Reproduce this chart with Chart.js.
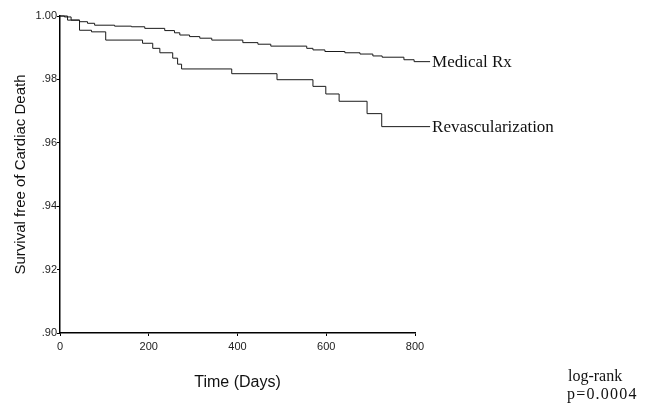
<!DOCTYPE html>
<html lang="en">
<head>
    <meta charset="UTF-8">
    <title>Survival free of Cardiac Death</title>
    <script src="https://cdn.jsdelivr.net/npm/chart.js"></script>
    <style>
        html, body {
            margin: 0;
            padding: 0;
            background: #fff;
        }
        #wrap {
            width: 649px;
            height: 404px;
        }
    </style>
</head>
<body>
    <div id="wrap">
        <canvas id="kmChart" width="649" height="404"></canvas>
    </div>
    <script>
        // Kaplan-Meier steps (day, survival)
        const medicalDays = [0, 10, 25, 44, 62, 78, 123, 161, 191, 236, 258, 270, 292, 315, 342, 412, 446, 475, 556, 570, 597, 642, 676, 705, 726, 775, 798, 834];
        const medicalSurv = [1.000, 0.9997, 0.9987, 0.9982, 0.9977, 0.9971, 0.9968, 0.9966, 0.9961, 0.9954, 0.9947, 0.9940, 0.9935, 0.9930, 0.9924, 0.9916, 0.9911, 0.9905, 0.9898, 0.9893, 0.9888, 0.9884, 0.9880, 0.9874, 0.9870, 0.9862, 0.9856, 0.9856];

        const revascDays = [0, 17, 44, 71, 103, 186, 209, 225, 254, 265, 274, 387, 489, 570, 599, 629, 692, 725, 834];
        const revascSurv = [1.000, 0.9987, 0.9955, 0.9950, 0.9924, 0.9914, 0.9898, 0.9884, 0.9867, 0.9848, 0.9833, 0.9818, 0.9799, 0.9778, 0.9754, 0.9731, 0.9692, 0.9651, 0.9651];

        const seriesNames = ['Medical Rx', 'Revascularization'];
        const yTicks = [0.90, 0.92, 0.94, 0.96, 0.98, 1.00];
        const xTicks = [0, 200, 400, 600, 800];
        const testLines = ['log-rank', 'p=0.0004'];

        const toPoints = (xs, ys) => xs.map((x, i) => ({ x: x, y: ys[i] }));

        // curve names at the end of each line + the log-rank note
        const labelsPlugin = {
            id: 'kmLabels',
            afterDatasetsDraw(chart) {
                const ctx = chart.ctx;
                ctx.save();
                ctx.fillStyle = '#111';
                ctx.font = '17px "Liberation Serif", "Times New Roman", serif';
                ctx.textBaseline = 'middle';
                ctx.textAlign = 'left';
                chart.data.datasets.forEach((ds, i) => {
                    const pts = chart.getDatasetMeta(i).data;
                    const last = pts[pts.length - 1];
                    ctx.fillText(ds.label, last.x + 2, last.y + 1);
                });
                ctx.font = '16px "Liberation Serif", "Times New Roman", serif';
                ctx.fillText(testLines[0], chart.width - 81, chart.height - 27);
                ctx.letterSpacing = '1.2px';
                ctx.fillText(testLines[1], chart.width - 82, chart.height - 9);
                ctx.restore();
            }
        };

        new Chart(document.getElementById('kmChart'), {
            type: 'line',
            data: {
                datasets: [
                    {
                        label: seriesNames[0],
                        data: toPoints(medicalDays, medicalSurv),
                        borderColor: '#1a1a1a',
                        borderWidth: 1,
                        stepped: true,
                        pointRadius: 0,
                        clip: false
                    },
                    {
                        label: seriesNames[1],
                        data: toPoints(revascDays, revascSurv),
                        borderColor: '#1a1a1a',
                        borderWidth: 1,
                        stepped: true,
                        pointRadius: 0,
                        clip: false
                    }
                ]
            },
            options: {
                responsive: false,
                animation: false,
                events: [],
                layout: {
                    padding: { top: 16, right: 234, bottom: 8, left: 0 }
                },
                plugins: {
                    legend: { display: false },
                    tooltip: { enabled: false }
                },
                scales: {
                    x: {
                        type: 'linear',
                        min: 0,
                        max: 800,
                        afterBuildTicks: s => { s.ticks = xTicks.map(v => ({ value: v })); },
                        afterFit: s => { s.height = 63; },
                        grid: {
                            drawOnChartArea: false,
                            drawTicks: true,
                            tickLength: 3,
                            color: '#000'
                        },
                        border: { color: '#000', width: 1.5 },
                        ticks: {
                            padding: 4,
                            color: '#222',
                            font: { family: '"Liberation Sans", Arial, sans-serif', size: 11 }
                        },
                        title: {
                            display: true,
                            text: 'Time (Days)',
                            color: '#111',
                            padding: { top: 4, bottom: 4 },
                            font: { family: '"Liberation Sans", Arial, sans-serif', size: 16 }
                        }
                    },
                    y: {
                        min: 0.90,
                        max: 1.00,
                        afterBuildTicks: s => { s.ticks = yTicks.map(v => ({ value: v })); },
                        afterFit: s => { s.width = 60; },
                        grid: {
                            drawOnChartArea: false,
                            drawTicks: true,
                            tickLength: 3,
                            color: '#000'
                        },
                        border: { color: '#000', width: 1.5 },
                        ticks: {
                            padding: 0,
                            color: '#222',
                            font: { family: '"Liberation Sans", Arial, sans-serif', size: 11 },
                            callback: v => v.toFixed(2).replace(/^0/, '')
                        },
                        title: {
                            display: true,
                            text: 'Survival free of Cardiac Death',
                            color: '#111',
                            padding: { top: 12, bottom: 0 },
                            font: { family: '"Liberation Sans", Arial, sans-serif', size: 15 }
                        }
                    }
                }
            },
            plugins: [labelsPlugin]
        });
    </script>
</body>
</html>
